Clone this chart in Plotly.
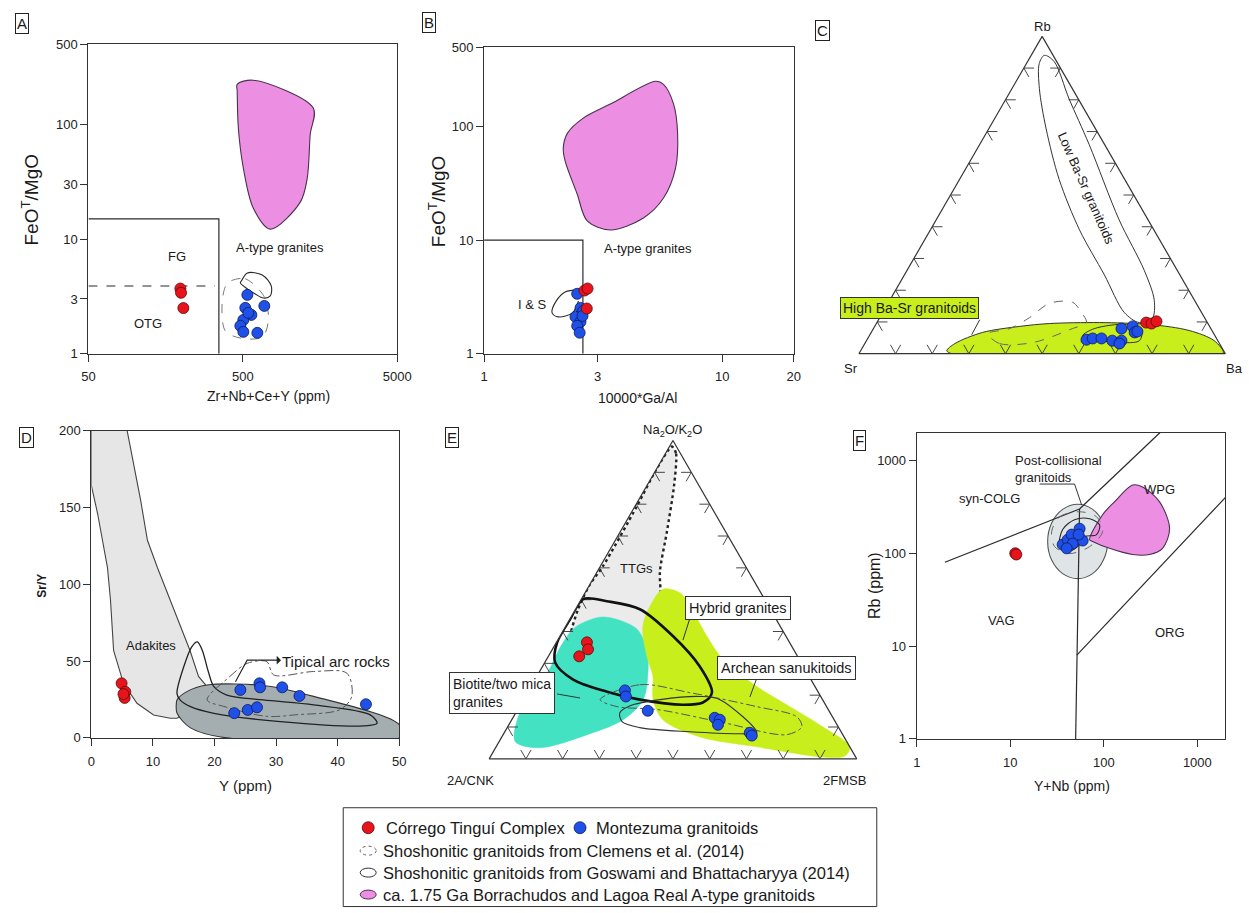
import numpy as np
import plotly.graph_objects as go

W, H = 1249, 913
# page frame: scale and offset applied when placing items in page pixels
SX, OX = 0.984, 6.5
SY, OY = 0.9856, 5.6
FONT = "Liberation Sans, Arial, Helvetica, sans-serif"
INK = "#2a2a2a"
RED = "#e8141c"
BLUE = "#1f50e8"
PINK = "#ec8fe2"
GREEN = "#c8ee1c"
CYAN = "#42e2c2"
LGREY = "#e6e6e6"
DGREY = "#a4aeb1"

# ---------------- Panel A: FeOT/MgO vs Zr+Nb+Ce+Y ----------------
a_red_x = [197, 199, 206]
a_red_y = [3.7, 3.4, 2.5]
a_blue_x = [535, 689, 519, 568, 504, 482, 504, 621, 543]
a_blue_y = [3.26, 2.61, 2.51, 2.18, 1.97, 1.75, 1.55, 1.52, 2.27]
a_atype_x = [460, 585, 1430, 1367, 1307, 1178, 753, 585, 504, 468, 460]
a_atype_y = [224, 243, 139, 82, 34, 21, 12.2, 18.6, 41.6, 92.7, 195]
a_gos_x = [489, 535, 669, 764, 753, 679, 602, 535, 482]
a_gos_y = [4.3, 5.06, 4.86, 3.9, 3.19, 3.06, 3.32, 3.67, 4.14]
a_cle_x = [415, 519, 689, 731, 669, 482, 385, 368, 390]
a_cle_y = [4.3, 4.5, 3.13, 1.93, 1.40, 1.37, 1.58, 2.88, 3.98]
a_fg_x = [50, 350, 350]
a_fg_y = [15, 15, 1]
a_otg_x = [50, 330]
a_otg_y = [3.9, 3.9]
a_xticks = [50, 500, 5000]
a_yticks = [1, 3, 10, 30, 100, 500]

# ---------------- Panel B: FeOT/MgO vs 10000*Ga/Al ----------------
b_red_x = [2.64, 2.72, 2.70]
b_red_y = [3.6, 3.75, 2.5]
b_blue_x = [2.46, 2.54, 2.42, 2.54, 2.46, 2.52, 2.61, 2.59]
b_blue_y = [3.37, 2.53, 2.11, 1.91, 1.76, 1.53, 2.38, 2.15]
b_atype_x = [2.15, 2.24, 2.61, 3.39, 5.25, 5.67, 6.25, 6.5, 6.37, 5.67, 4.67, 3.39, 2.71, 2.46, 2.19]
b_atype_y = [64.7, 87.7, 119, 158, 251, 236, 158, 85.9, 43.1, 23.5, 15.7, 12.3, 14.8, 25.5, 49.7]
b_gos_x = [2.49, 2.19, 2.01, 1.93, 2.05, 2.35, 2.49]
b_gos_y = [3.65, 3.5, 2.92, 2.29, 2.11, 2.29, 2.92]
b_is_x = [1, 2.6, 2.6]
b_is_y = [10, 10, 1]
b_xticks = [1, 3, 10, 20]
b_yticks = [1, 10, 100, 500]

# ---------------- Panel C: Rb-Sr-Ba ternary ----------------
c_low_a = [0.940, 0.921, 0.803, 0.660, 0.422, 0.263, 0.168, 0.111, 0.098, 0.130, 0.248, 0.390, 0.549, 0.708, 0.835, 0.914]
c_low_b = [0.024, 0.007, 0.025, 0.042, 0.079, 0.090, 0.110, 0.144, 0.186, 0.211, 0.206, 0.203, 0.179, 0.135, 0.090, 0.051]
c_low_c = [0.036, 0.072, 0.172, 0.298, 0.499, 0.647, 0.722, 0.745, 0.716, 0.659, 0.546, 0.407, 0.272, 0.157, 0.075, 0.035]
c_high_a = [0.0095, 0.032, 0.067, 0.086, 0.095, 0.098, 0.092, 0.073, 0.041, 0.003, 0.0, 0.0, 0.0]
c_high_b = [0.755, 0.722, 0.629, 0.518, 0.432, 0.295, 0.161, 0.062, 0.010, 0.004, 0.071, 0.616, 0.747]
c_high_c = [0.235, 0.246, 0.304, 0.396, 0.473, 0.607, 0.747, 0.865, 0.949, 0.993, 0.929, 0.384, 0.253]
c_cle_a = [0.063, 0.032, 0.035, 0.079, 0.098, 0.130, 0.162, 0.159, 0.114, 0.079]
c_cle_b = [0.617, 0.600, 0.508, 0.378, 0.330, 0.328, 0.336, 0.400, 0.477, 0.549]
c_cle_c = [0.320, 0.368, 0.457, 0.543, 0.572, 0.542, 0.502, 0.441, 0.409, 0.372]
c_gos_a = [0.057, 0.079, 0.092, 0.073, 0.041, 0.035, 0.041, 0.048]
c_gos_b = [0.361, 0.318, 0.224, 0.192, 0.214, 0.271, 0.323, 0.360]
c_gos_c = [0.582, 0.603, 0.684, 0.735, 0.745, 0.694, 0.636, 0.592]
c_blue_a = [0.044, 0.048, 0.048, 0.041, 0.041, 0.032, 0.079, 0.086, 0.067, 0.070]
c_blue_b = [0.357, 0.338, 0.314, 0.288, 0.263, 0.273, 0.244, 0.210, 0.214, 0.205]
c_blue_c = [0.599, 0.614, 0.638, 0.671, 0.696, 0.695, 0.677, 0.704, 0.719, 0.725]
c_red_a = [0.098, 0.095, 0.102]
c_red_b = [0.167, 0.154, 0.137]
c_red_c = [0.735, 0.751, 0.761]

# ---------------- Panel D: Sr/Y vs Y ----------------
d_red_x = [4.9, 5.5, 5.4, 5.2]
d_red_y = [35.5, 30.0, 26.0, 28.5]
d_blue_x = [24.2, 27.3, 27.4, 31.0, 33.8, 44.6, 23.2, 25.4, 26.9]
d_blue_y = [31.2, 35.5, 32.9, 32.9, 27.3, 21.9, 16.1, 18.2, 19.9]
d_adak_x = [0, 5.8, 8.0, 9.1, 10.7, 12.8, 14.4, 16.0, 17.4, 19.5, 16.0, 14.5, 13.9, 12.8, 10.1, 7.4, 5.2, 3.6, 3.1, 2.6, 1.0, 0]
d_adak_y = [200, 200, 154.5, 128.6, 111, 89.6, 72.3, 57, 40, 30, 22, 14, 12.8, 12.8, 14.9, 22.5, 35.5, 57, 89.6, 111, 146, 164]
d_arc_x = [13.9, 15.5, 18.8, 28.5, 36.1, 50, 50, 22, 16.1, 13.9, 13.8]
d_arc_y = [24.7, 30.1, 34.4, 33.8, 27.0, 8.6, 0, 0, 6.5, 16.2, 22.6]
d_gos_x = [13.9, 15.0, 16.3, 17.2, 18.0, 19.0, 19.9, 22.0, 27.9, 36.1, 45.3, 46.4, 44.2, 30.7, 19.9, 16.1, 14.4, 13.9]
d_gos_y = [29, 46.3, 59.3, 62.5, 57.1, 43, 33.3, 27.9, 24.7, 21.5, 15, 9.5, 7.8, 10.6, 16, 20.3, 24.7, 29]
d_cle_x = [18.8, 22.5, 25.3, 28.5, 29.6, 36.1, 41.5, 42.3, 40.4, 33.4, 28.5, 21.5, 18.8]
d_cle_y = [24.7, 40.0, 48.5, 49.6, 41.0, 43.2, 42.1, 27.0, 18.4, 15.1, 14.0, 20.5, 24.7]
d_arrow_x = [23.4, 25.3, 27.0]
d_arrow_y = [36.6, 50.6, 50.6]

# ---------------- Panel E: Na2O/K2O - 2A/CNK - 2FMSB ternary ----------------
e_ttg_a = [0.981, 0.959, 0.858, 0.713, 0.587, 0.511, 0.416, 0.366, 0.338, 0.328, 0.328, 0.344, 0.385, 0.470, 0.543, 0.606, 0.795, 0.912, 0.981]
e_ttg_b = [0.012, 0.012, 0.068, 0.160, 0.242, 0.277, 0.319, 0.358, 0.401, 0.472, 0.562, 0.602, 0.587, 0.523, 0.457, 0.387, 0.200, 0.088, 0.012]
e_ttg_c = [0.007, 0.029, 0.074, 0.127, 0.171, 0.212, 0.265, 0.276, 0.261, 0.200, 0.110, 0.054, 0.028, 0.007, 0.0, 0.007, 0.005, 0.0, 0.007]
e_bio_a = [0.445, 0.413, 0.350, 0.274, 0.202, 0.123, 0.054, 0.035, 0.079, 0.123, 0.186, 0.281, 0.344, 0.407, 0.438, 0.445]
e_bio_b = [0.476, 0.560, 0.632, 0.703, 0.787, 0.862, 0.902, 0.844, 0.686, 0.574, 0.488, 0.427, 0.399, 0.394, 0.433, 0.476]
e_bio_c = [0.079, 0.027, 0.018, 0.023, 0.011, 0.015, 0.044, 0.121, 0.235, 0.303, 0.326, 0.292, 0.257, 0.199, 0.129, 0.079]
e_san_a = [0.533, 0.521, 0.479, 0.385, 0.312, 0.227, 0.164, 0.101, 0.038, 0.009, 0.006, 0.038, 0.069, 0.123, 0.186, 0.259, 0.322, 0.416, 0.479, 0.533]
e_san_b = [0.261, 0.220, 0.214, 0.215, 0.208, 0.158, 0.100, 0.042, 0.000, 0.028, 0.090, 0.253, 0.392, 0.466, 0.461, 0.425, 0.410, 0.374, 0.323, 0.261]
e_san_c = [0.206, 0.259, 0.307, 0.400, 0.480, 0.615, 0.736, 0.857, 0.962, 0.963, 0.904, 0.709, 0.539, 0.411, 0.353, 0.316, 0.268, 0.210, 0.198, 0.206]
e_hyb_a = [0.502, 0.495, 0.470, 0.385, 0.290, 0.208, 0.177, 0.170, 0.186, 0.211, 0.249, 0.303, 0.366, 0.438, 0.502]
e_hyb_b = [0.493, 0.432, 0.355, 0.307, 0.282, 0.290, 0.330, 0.388, 0.497, 0.574, 0.647, 0.669, 0.632, 0.561, 0.493]
e_hyb_c = [0.005, 0.073, 0.175, 0.308, 0.428, 0.502, 0.493, 0.442, 0.317, 0.215, 0.104, 0.028, 0.002, 0.001, 0.005]
e_gos_a = [0.145, 0.167, 0.186, 0.196, 0.186, 0.082, 0.079, 0.085, 0.098, 0.117, 0.145]
e_gos_b = [0.572, 0.533, 0.442, 0.328, 0.279, 0.231, 0.278, 0.411, 0.541, 0.580, 0.572]
e_gos_c = [0.283, 0.300, 0.372, 0.476, 0.535, 0.687, 0.643, 0.504, 0.361, 0.303, 0.283]
e_cle_a = [0.186, 0.233, 0.208, 0.164, 0.132, 0.101, 0.076, 0.114, 0.155, 0.164, 0.186]
e_cle_b = [0.605, 0.473, 0.350, 0.190, 0.097, 0.099, 0.152, 0.307, 0.466, 0.570, 0.605]
e_cle_c = [0.209, 0.294, 0.442, 0.646, 0.771, 0.800, 0.772, 0.579, 0.379, 0.266, 0.209]
e_red_a = [0.366, 0.344, 0.322]
e_red_b = [0.551, 0.559, 0.594]
e_red_c = [0.083, 0.097, 0.084]
e_blue_a = [0.215, 0.196, 0.151, 0.129, 0.123, 0.107, 0.082, 0.073]
e_blue_b = [0.523, 0.530, 0.493, 0.322, 0.311, 0.324, 0.250, 0.249]
e_blue_c = [0.262, 0.274, 0.356, 0.549, 0.566, 0.569, 0.668, 0.678]

# ---------------- Panel F: Rb vs Y+Nb (Pearce) ----------------
f_red_x = [11.3, 11.6]
f_red_y = [100, 97]
f_blue_x = [36.3, 41.1, 45.3, 55.1, 59.4, 46.4, 40.1, 53.8]
f_blue_y = [124, 140, 159, 184, 137, 127, 113, 159]
f_wpg_x = [70.5, 97, 130, 203, 260, 395, 505, 425, 308, 203, 115, 75.9, 70.5]
f_wpg_y = [140, 260, 358, 543, 517, 358, 184, 113, 97, 97, 113, 134, 140]
f_pc_x = [110, 99, 76, 52.5, 36.3, 27.7, 25.1, 27.7, 36.3, 52.5, 76, 99, 110]
f_pc_y = [134, 212, 297, 337, 297, 212, 134, 84.5, 60.4, 53.3, 60.4, 84.5, 134]
f_gos_x = [33.7, 36.3, 48.7, 70.5, 90.2, 83.7, 62.4, 52.5, 41.1, 33.7]
f_gos_y = [118, 180, 230, 235, 203, 159, 151, 118, 105, 118]
f_cle_x = [27.7, 33.7, 55.1, 83.7, 97, 70.5, 43.1, 29.8, 27.7]
f_cle_y = [171, 247, 280, 247, 171, 118, 99.5, 118, 171]
f_vag_syn_x = [2, 55]
f_vag_syn_y = [80, 300]
f_syn_wpg_x = [55, 400]
f_syn_wpg_y = [300, 2000]
f_vag_wpg_x = [55, 51.5, 50]
f_vag_wpg_y = [300, 8, 1]
f_wpg_org_x = [51.5, 2000]
f_wpg_org_y = [8, 400]
f_leader_x = [20.6, 48.7, 57.9]
f_leader_y = [557, 557, 332]
f_ticks = [1, 10, 100, 1000]

fig = go.Figure()
lg = np.log10


def px(x):
    return ((x - OX) / SX) / W


def py(y):
    return 1 - ((y - OY) / SY) / H


def xy(x, y, axes, **kw):
    fig.add_trace(go.Scatter(x=x, y=y, xaxis=axes[0], yaxis=axes[1],
                             showlegend=False, hoverinfo="skip", **kw))


def tern(a, b, c, sub, **kw):
    fig.add_trace(go.Scatterternary(a=a, b=b, c=c, subplot=sub,
                                    showlegend=False, hoverinfo="skip", **kw))


def closed(v):
    return list(v) + [v[0]]


def field(fill, line="#3a3a3a", width=1.1, dash="solid"):
    return dict(mode="lines", fill="toself", fillcolor=fill,
                line=dict(color=line, width=width, dash=dash, shape="spline", smoothing=0.9))


def outline(color=INK, width=1.1, dash="solid"):
    return dict(mode="lines", line=dict(color=color, width=width, dash=dash, shape="spline", smoothing=0.9))


def pts(color, size=11):
    edge = "#5a0a0a" if color == RED else "#0d1a5a"
    return dict(mode="markers", marker=dict(color=color, size=size, line=dict(color=edge, width=0.8)))


line_k = dict(mode="lines", line=dict(color=INK, width=1.2))

# ----- A
A = ("x", "y")
xy(closed(a_atype_x), closed(a_atype_y), A, **field(PINK, "#4a3050"))
xy(a_fg_x, a_fg_y, A, **line_k)
xy(a_otg_x, a_otg_y, A, mode="lines", line=dict(color=INK, width=1.1, dash="dash"))
xy(closed(a_cle_x), closed(a_cle_y), A, **outline("#777", 1.0, "dash"))
xy(closed(a_gos_x), closed(a_gos_y), A, **outline())
xy(a_red_x, a_red_y, A, **pts(RED))
xy(a_blue_x, a_blue_y, A, **pts(BLUE))

# ----- B
B = ("x2", "y2")
xy(closed(b_atype_x), closed(b_atype_y), B, **field(PINK, "#4a3050"))
xy(b_is_x, b_is_y, B, **line_k)
xy(b_gos_x, b_gos_y, B, **outline())
xy(b_blue_x, b_blue_y, B, **pts(BLUE))
xy(b_red_x, b_red_y, B, **pts(RED))

# ----- D
D = ("x3", "y3")
xy(d_adak_x + [d_adak_x[0]], d_adak_y + [d_adak_y[0]], D,
   mode="lines", fill="toself", fillcolor=LGREY, line=dict(color="#444", width=1.1))
xy(closed(d_arc_x), closed(d_arc_y), D, **field(DGREY, "#333", 1.1))
xy(d_gos_x, d_gos_y, D, **outline("#222", 1.3))
xy(d_cle_x, d_cle_y, D, **outline("#555", 1.0, "dashdot"))
xy(d_arrow_x, d_arrow_y, D, mode="lines", line=dict(color="#222", width=1.1))
xy(d_red_x, d_red_y, D, **pts(RED))
xy(d_blue_x, d_blue_y, D, **pts(BLUE))

# ----- F
F = ("x4", "y4")
xy(f_pc_x, f_pc_y, F, **field("#dfe5e6", "#555", 1.1))
for lx, ly in [(f_vag_syn_x, f_vag_syn_y), (f_syn_wpg_x, f_syn_wpg_y),
               (f_vag_wpg_x, f_vag_wpg_y), (f_wpg_org_x, f_wpg_org_y)]:
    xy(lx, ly, F, **line_k)
xy(f_wpg_x, f_wpg_y, F, **field(PINK, "#4a3050"))
xy(f_cle_x, f_cle_y, F, **outline("#666", 1.0, "dash"))
xy(f_gos_x, f_gos_y, F, **outline())
xy(f_leader_x, f_leader_y, F, mode="lines", line=dict(color="#333", width=1))
xy(f_red_x, f_red_y, F, **pts(RED))
xy(f_blue_x, f_blue_y, F, **pts(BLUE))


# ----- chevron ticks on the edges of a ternary diagram
def chevrons(sub, n=10, d=0.028):
    ta, tb, tc = [], [], []

    def seg(points):
        for p in points:
            ta.append(p[0]); tb.append(p[1]); tc.append(p[2])
        ta.append(None); tb.append(None); tc.append(None)

    for i in range(1, n):
        t = i / n
        seg(((d, 1 - t, t - d), (0, 1 - t, t), (d, 1 - t - d, t)))      # bottom edge
        seg(((t, 1 - t - d, d), (t, 1 - t, 0), (t - d, 1 - t, d)))      # left edge
        seg(((t, d, 1 - t - d), (t, 0, 1 - t), (t - d, d, 1 - t)))      # right edge
    tern(ta, tb, tc, sub, mode="lines", line=dict(color="#333", width=0.9), connectgaps=False)


# ----- C
tern(closed(c_high_a), closed(c_high_b), closed(c_high_c), "ternary", **field(GREEN, "#333", 1.0))
chevrons("ternary")
tern(closed(c_low_a), closed(c_low_b), closed(c_low_c), "ternary", **outline("#333", 1.0))
tern(closed(c_cle_a), closed(c_cle_b), closed(c_cle_c), "ternary", **outline("#666", 1.0, "dash"))
tern(closed(c_gos_a), closed(c_gos_b), closed(c_gos_c), "ternary", **outline("#333", 1.0))
tern(c_blue_a, c_blue_b, c_blue_c, "ternary", **pts(BLUE))
tern(c_red_a, c_red_b, c_red_c, "ternary", **pts(RED))

# ----- E
tern(e_ttg_a, e_ttg_b, e_ttg_c, "ternary2", mode="lines", fill="toself", fillcolor="#ebebeb",
     line=dict(color="#222", width=2.4, dash="dot", shape="spline", smoothing=0.7))
tern(e_bio_a, e_bio_b, e_bio_c, "ternary2", mode="lines", fill="toself", fillcolor=CYAN,
     line=dict(color=CYAN, width=0.5, shape="spline", smoothing=0.9))
tern(e_san_a, e_san_b, e_san_c, "ternary2", mode="lines", fill="toself", fillcolor=GREEN,
     line=dict(color=GREEN, width=0.5, shape="spline", smoothing=0.9))
chevrons("ternary2")
tern(e_hyb_a, e_hyb_b, e_hyb_c, "ternary2", **outline("#111", 2.6))
tern(e_cle_a, e_cle_b, e_cle_c, "ternary2", **outline("#555", 1.0, "dashdot"))
tern(e_gos_a, e_gos_b, e_gos_c, "ternary2", **outline("#333", 1.1))
tern(e_red_a, e_red_b, e_red_c, "ternary2", **pts(RED))
tern(e_blue_a, e_blue_b, e_blue_c, "ternary2", **pts(BLUE))

# ----- axes
tickfont = dict(family=FONT, size=13, color="#222")


def axis(x0, x1, anchor, rng, log=False, tickvals=None, dtick=None, ticktext=None, standoff=0):
    d = dict(domain=[x0, x1], anchor=anchor, range=rng, showline=True, mirror=True,
             linecolor="#333", linewidth=1.2, ticks="outside", ticklen=7, tickwidth=1.2,
             tickcolor="#333", showgrid=False, zeroline=False, tickfont=tickfont,
             fixedrange=True, ticklabelstandoff=standoff)
    if log:
        d["type"] = "log"
    if tickvals is not None:
        d["tickvals"] = tickvals
        d["ticktext"] = ticktext or [str(v) for v in tickvals]
    if dtick is not None:
        d["dtick"] = dtick
        d["tick0"] = 0
    return d


def tern_axis():
    return dict(showline=True, linecolor="#333", linewidth=1.2, showgrid=False,
                showticklabels=False, ticks="", title=dict(text=""))


def tern_layout(x0, x1, ybot, ytop):
    return dict(domain=dict(x=[px(x0), px(x1)], y=[py(ybot), py(ytop)]), sum=1,
                bgcolor="rgba(0,0,0,0)",
                aaxis=tern_axis(), baxis=tern_axis(), caxis=tern_axis())


fig.update_layout(
    width=W, height=H, margin=dict(l=0, r=0, t=0, b=0),
    paper_bgcolor="white", plot_bgcolor="white",
    font=dict(family=FONT, color="#222"),
    xaxis=axis(px(88), px(397), "y", [lg(50), lg(5000)], True, a_xticks, standoff=4),
    yaxis=axis(py(353), py(43), "x", [0, lg(500)], True, a_yticks),
    xaxis2=axis(px(484), px(794), "y2", [0, lg(20)], True, b_xticks, standoff=4),
    yaxis2=axis(py(353), py(46), "x2", [0, lg(500)], True, b_yticks),
    xaxis3=axis(px(91), px(399), "y3", [0, 50], dtick=10, standoff=4),
    yaxis3=axis(py(738), py(430), "x3", [0, 200], dtick=50),
    xaxis4=axis(px(917), px(1226), "y4", [0, lg(2000)], True, f_ticks, standoff=4),
    yaxis4=axis(py(739), py(432), "x4", [0, lg(2000)], True, f_ticks),
    ternary=tern_layout(859, 1226, 353, 35),
    ternary2=tern_layout(489, 857, 759, 440),
)

ann = []


def text(t, x, y, ref=("paper", "paper"), size=13, angle=0, **kw):
    d = dict(text=t, x=x, y=y, xref=ref[0], yref=ref[1], showarrow=False,
             xanchor="center", yanchor="middle",
             font=dict(family=FONT, size=size, color="#1a1a1a"), textangle=angle)
    d.update(kw)
    ann.append(d)


def ptext(t, x, y, **kw):
    text(t, px(x), py(y), **kw)


# panel letters
for letter, (lx, ly) in {"A": (22, 22), "B": (429, 21), "C": (823, 29),
                         "D": (26, 437), "E": (452, 437), "F": (860, 440)}.items():
    ptext(letter, lx, ly, size=15, bordercolor="#222", borderwidth=1, borderpad=1,
          bgcolor="white")

# axis titles
ptext("FeO<sup>T</sup>/MgO", 30, 198, size=19, angle=-90)
ptext("Zr+Nb+Ce+Y (ppm)", 268, 395, size=14)
ptext("FeO<sup>T</sup>/MgO", 437, 200, size=19, angle=-90)
ptext("10000*Ga/Al", 638, 397, size=14)
ptext("<b>Sr/Y</b>", 42, 585, size=12, angle=-90)
ptext("Y (ppm)", 245, 786, size=15)
ptext("Rb (ppm)", 874, 585, size=16, angle=-90)
ptext("Y+Nb (ppm)", 1072, 786, size=14)

# panel A labels
text("FG", lg(188), lg(7.1), ("x", "y"))
text("OTG", lg(122), lg(1.82), ("x", "y"))
text("A-type granites", lg(875), lg(8.4), ("x", "y"))
# panel B labels
text("A-type granites", lg(4.9), lg(8.5), ("x2", "y2"))
text("I &amp; S", lg(1.6), lg(2.7), ("x2", "y2"))
# panel C labels
ptext("Rb", 1043, 25, size=13)
ptext("Sr", 851, 368, size=13)
ptext("Ba", 1235, 368, size=13)
ptext("Low Ba-Sr granitoids", 1087, 187, size=13, angle=66)
ptext("High Ba-Sr granitoids", 910, 307, size=14, bgcolor=GREEN, bordercolor="#333",
      borderwidth=1, borderpad=2)
# panel D labels
text("Adakites", 9.6, 60.4, ("x3", "y3"))
text("Tipical arc rocks", 39.7, 50.0, ("x3", "y3"), size=15)
ann.append(dict(x=30.8, y=50.6, ax=26.8, ay=50.6, xref="x3", yref="y3", axref="x3", ayref="y3",
                showarrow=True, arrowhead=1, arrowsize=1.3, arrowwidth=1.1, arrowcolor="#222",
                text=""))
# panel E labels
ptext("Na<sub>2</sub>O/K<sub>2</sub>O", 673, 430, size=13)
ptext("2A/CNK", 470, 781, size=13)
ptext("2FMSB", 845, 781, size=13)
ptext("TTGs", 637, 568, size=13)
ptext("Hybrid granites", 738, 608, size=14.5, bgcolor="white", bordercolor="#333",
      borderwidth=1, borderpad=3)
ptext("Archean sanukitoids", 787, 668, size=14.5, bgcolor="white", bordercolor="#333",
      borderwidth=1, borderpad=3)
ptext("Biotite/two mica<br>granites", 502, 693, size=14, bgcolor="white", bordercolor="#333",
      borderwidth=1, borderpad=3, align="left")
# panel F labels
text("syn-COLG", lg(6.0), lg(385), ("x4", "y4"))
text("WPG", lg(395), lg(481), ("x4", "y4"))
text("VAG", lg(8.1), lg(18.7), ("x4", "y4"))
text("ORG", lg(505), lg(13.9), ("x4", "y4"))
text("Post-collisional<br>granitoids", lg(10.6), lg(805), ("x4", "y4"), xanchor="left", align="left")

# legend
leg_rows = [828, 851, 873, 895]
LEG = 16.5
ptext("Córrego Tinguí Complex", 384, leg_rows[0], size=LEG, xanchor="left")
ptext("Montezuma granitoids", 594, leg_rows[0], size=LEG, xanchor="left")
ptext("Shoshonitic granitoids from Clemens et al. (2014)", 381, leg_rows[1], size=LEG, xanchor="left")
ptext("Shoshonitic granitoids from Goswami and Bhattacharyya (2014)", 381, leg_rows[2], size=LEG, xanchor="left")
ptext("ca. 1.75 Ga Borrachudos and Lagoa Real A-type granitoids", 381, leg_rows[3], size=LEG, xanchor="left")

shapes = []


def pline(x0, y0, x1, y1, **kw):
    shapes.append(dict(type="line", xref="paper", yref="paper", x0=px(x0), y0=py(y0),
                       x1=px(x1), y1=py(y1), line=dict(color="#333", width=1, **kw)))


def pell(cx, cy, rx, ry, **kw):
    shapes.append(dict(type="circle", xref="paper", yref="paper", x0=px(cx - rx), x1=px(cx + rx),
                       y0=py(cy + ry), y1=py(cy - ry), **kw))


# leader lines
pline(980, 319, 972, 334)
pline(690, 618, 683, 640)
pline(757, 678, 750, 697)
pline(557, 694, 580, 698)
# legend box and keys
shapes.append(dict(type="rect", xref="paper", yref="paper", x0=px(343), x1=px(877),
                   y0=py(907), y1=py(808), line=dict(color="#333", width=1)))
pell(368, leg_rows[0], 6, 6, fillcolor=RED, line=dict(color="#5a0a0a", width=0.8))
pell(580, leg_rows[0], 6, 6, fillcolor=BLUE, line=dict(color="#0d1a5a", width=0.8))
pell(368, leg_rows[1], 8, 4.5, line=dict(color="#666", width=1, dash="dot"))
pell(368, leg_rows[2], 8, 4.5, line=dict(color="#333", width=1))
pell(368, leg_rows[3], 8, 4.5, fillcolor=PINK, line=dict(color="#4a3050", width=1))

fig.update_layout(annotations=ann, shapes=shapes)
fig.write_html("out.html",
               post_script="document.body.style.margin='0';document.body.style.overflow='hidden';")
